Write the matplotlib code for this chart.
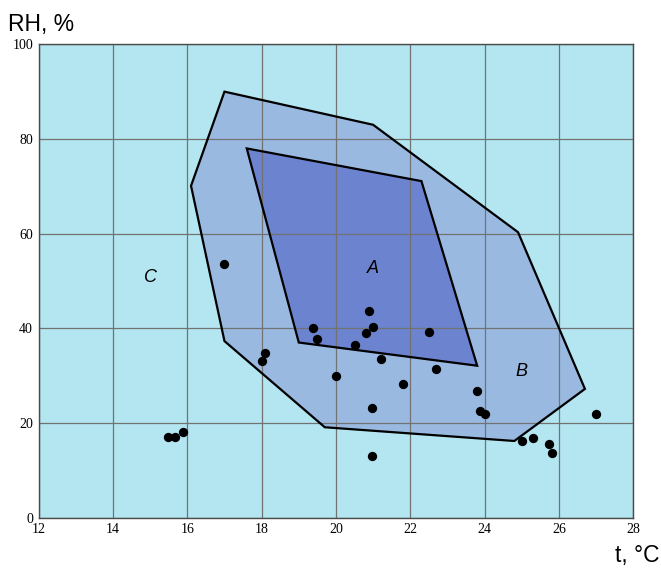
import numpy as np
import matplotlib.pyplot as plt
from matplotlib.patches import Polygon

# zone B (outer) and zone A (inner) outlines
zone_b_t = [17.0, 21.0, 24.9, 26.7, 24.8, 19.7, 17.0, 16.1]
zone_b_rh = [90.0, 83.0, 60.3, 27.2, 16.2, 19.1, 37.3, 70.1]
zone_a_t = [17.6, 22.3, 23.8, 19.0]
zone_a_rh = [78.0, 71.1, 32.1, 37.0]

# measured points
pts_t = [17.0, 15.49, 15.67, 15.89, 18.0, 18.09, 19.39, 19.5, 20.9, 20.99, 20.8,
         20.5, 22.51, 21.2, 20.0, 22.69, 21.81, 23.79, 20.98, 23.88, 24.01,
         25.0, 25.29, 25.72, 25.81, 26.99, 20.98]
pts_rh = [53.5, 17.1, 17.1, 18.0, 33.2, 34.8, 40.1, 37.7, 43.7, 40.3, 39.1,
          36.5, 39.2, 33.5, 30.0, 31.4, 28.3, 26.7, 23.1, 22.6, 22.0,
          16.3, 16.8, 15.5, 13.7, 22.0, 13.0]

xticks = [12, 14, 16, 18, 20, 22, 24, 26, 28]
yticks = [0, 20, 40, 60, 80, 100]

fig = plt.figure(figsize=(6.61, 5.71), dpi=100)
ax = fig.add_axes([0.0585, 0.0934, 0.8995, 0.829])
ax.set_facecolor('#B3E6F0')
ax.set_xlim(12, 28)
ax.set_ylim(0, 100)
ax.set_xticks(xticks)
ax.set_yticks(yticks)
ax.grid(True, color='#727272', lw=0.9, zorder=1)

ax.add_patch(Polygon(np.column_stack([zone_b_t, zone_b_rh]), closed=True,
                     facecolor='#99B9E1', edgecolor='none', zorder=0.5))
ax.add_patch(Polygon(np.column_stack([zone_a_t, zone_a_rh]), closed=True,
                     facecolor='#6C84CF', edgecolor='none', zorder=0.6))
ax.add_patch(Polygon(np.column_stack([zone_b_t, zone_b_rh]), closed=True,
                     facecolor='none', edgecolor='black', lw=1.6, zorder=3))
ax.add_patch(Polygon(np.column_stack([zone_a_t, zone_a_rh]), closed=True,
                     facecolor='none', edgecolor='black', lw=1.6, zorder=3))

ax.scatter(pts_t, pts_rh, s=45, color='black', zorder=4, linewidths=0)

for lab, x, y in [('A', 21.0, 52.7), ('B', 25.0, 30.8), ('C', 15.0, 50.8)]:
    ax.text(x, y, lab, fontsize=13, style='italic', family='Liberation Sans',
            ha='center', va='center', zorder=5)

ax.tick_params(length=0, pad=4, labelsize=10)
for lbl in ax.get_xticklabels() + ax.get_yticklabels():
    lbl.set_family('Liberation Serif')
for sp in ax.spines.values():
    sp.set_color('#4A4A4A')
    sp.set_linewidth(1.0)

fig.text(0.012, 0.957, 'RH, %', fontsize=16.5, family='Liberation Sans', va='center')
fig.text(0.997, 0.028, 't, \u00b0C', fontsize=16.5, family='Liberation Sans',
         va='center', ha='right')

fig.savefig('out.png', dpi=100)
